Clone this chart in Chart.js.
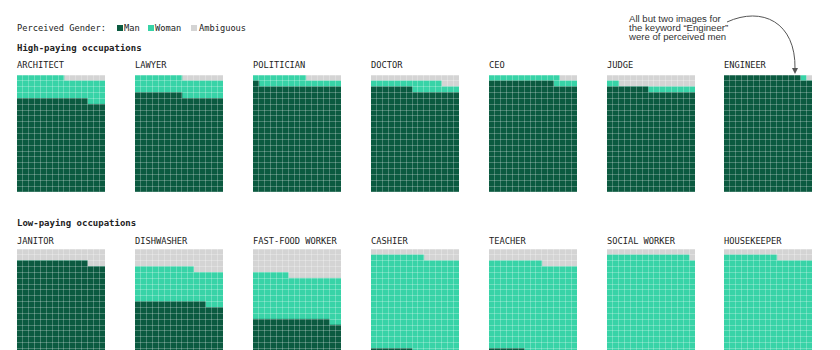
<!DOCTYPE html>
<html>
<head>
<meta charset="utf-8">
<script src="https://cdn.jsdelivr.net/npm/chart.js@4"></script>
<style>
  body { margin: 0; background: #fff; }
  #page { position: relative; width: 840px; height: 350px; overflow: hidden; font-family: 'DejaVu Sans Mono', monospace; color: #222; }
  .txt { position: absolute; white-space: nowrap; font-size: 8.7px; line-height: 10px; }
  .head { position: absolute; white-space: nowrap; font-size: 9px; line-height: 10px; font-weight: bold; }
  .sw { position: absolute; width: 6px; height: 6px; }
  .panel { position: absolute; width: 88px; height: 117px; }
  .note { position: absolute; font-family: 'Liberation Sans', Arial, sans-serif; font-size: 9.6px; line-height: 9.3px; color: #333; white-space: nowrap; }
</style>
</head>
<body>
<div id="page">
  <div class="txt" style="left:17px;top:23px">Perceived Gender:</div>
  <div class="sw" style="left:117px;top:25px;background:#0b5a40"></div>
  <div class="txt" style="left:124px;top:23px">Man</div>
  <div class="sw" style="left:148px;top:25px;background:#38d3a7"></div>
  <div class="txt" style="left:155px;top:23px">Woman</div>
  <div class="sw" style="left:191px;top:25px;background:#d4d4d4"></div>
  <div class="txt" style="left:199px;top:23px">Ambiguous</div>

  <div class="head" style="left:17px;top:43px">High-paying occupations</div>
  <div class="head" style="left:17px;top:218px">Low-paying occupations</div>

  <div class="note" style="left:629px;top:13.7px">All but two images for<br>the keyword “Engineer”<br>were of perceived men</div>
  <svg style="position:absolute;left:0;top:0" width="840" height="350">
    <path d="M727,22 C762,6 796,22 795,69" fill="none" stroke="#555" stroke-width="1"/>
    <path d="M792,68 L798,68 L795,74 Z" fill="#555"/>
  </svg>
</div>

<script>
// Waffle: 300 images per keyword, 15 columns x 20 rows
const COLS = 15;
const ROWS = 20;

const occupationsHigh = ['ARCHITECT', 'LAWYER', 'POLITICIAN', 'DOCTOR', 'CEO', 'JUDGE', 'ENGINEER'];
const manHigh = [237, 248, 271, 262, 281, 262, 298];
const womanHigh = [56, 45, 23, 20, 16, 10, 1];
const ambiguousHigh = [7, 7, 6, 18, 3, 28, 1];

const occupationsLow = ['JANITOR', 'DISHWASHER', 'FAST-FOOD WORKER', 'CASHIER', 'TEACHER', 'SOCIAL WORKER', 'HOUSEKEEPER'];
const manLow = [267, 162, 118, 37, 36, 24, 21];
const womanLow = [0, 88, 113, 242, 228, 260, 258];
const ambiguousLow = [33, 50, 69, 21, 36, 16, 21];

const cores = {
    man: '#0b5a40',
    woman: '#38d3a7',
    ambiguous: '#d4d4d4',
    grade: 'rgba(255, 255, 255, 0.25)'
};

const panelLeft = [17, 135, 253, 371, 489, 607, 724];
const rowTop = [74.5, 249.3];
const titleTop = [60.3, 236];

// cells filled row by row from the bottom, left to right
function cellsInColumn(n, c) {
    return Math.floor(n / COLS) + (c < n % COLS ? 1 : 0);
}

function columnCounts(start, count) {
    const out = [];
    for (let c = 0; c < COLS; c++) {
        out.push(cellsInColumn(start + count, c) - cellsInColumn(start, c));
    }
    return out;
}

function criarWaffle(parent, left, top, man, woman, ambiguous) {
    const box = document.createElement('div');
    box.className = 'panel';
    box.style.left = left + 'px';
    box.style.top = top + 'px';
    const canvas = document.createElement('canvas');
    canvas.width = 88;
    canvas.height = 117;
    box.appendChild(canvas);
    parent.appendChild(box);

    const labels = [];
    for (let c = 0; c < COLS; c++) labels.push(String(c + 1));

    new Chart(canvas.getContext('2d'), {
        type: 'bar',
        data: {
            labels: labels,
            datasets: [
                { label: 'Man', data: columnCounts(0, man), backgroundColor: cores.man },
                { label: 'Woman', data: columnCounts(man, woman), backgroundColor: cores.woman },
                { label: 'Ambiguous', data: columnCounts(man + woman, ambiguous), backgroundColor: cores.ambiguous }
            ]
        },
        options: {
            responsive: false,
            animation: false,
            events: [],
            layout: { padding: 0 },
            datasets: { bar: { barPercentage: 1, categoryPercentage: 1, borderWidth: 0 } },
            plugins: { legend: { display: false }, tooltip: { enabled: false } },
            scales: {
                x: {
                    stacked: true,
                    ticks: { display: false },
                    border: { display: false },
                    grid: { color: cores.grade, lineWidth: 1, drawTicks: false, z: 1 }
                },
                y: {
                    stacked: true,
                    min: 0,
                    max: ROWS,
                    ticks: { display: false, stepSize: 1 },
                    border: { display: false },
                    grid: { color: cores.grade, lineWidth: 1, drawTicks: false, z: 1 }
                }
            }
        }
    });
}

function montarLinha(page, r, names, man, woman, ambiguous) {
    names.forEach((name, i) => {
        const t = document.createElement('div');
        t.className = 'txt';
        t.style.left = panelLeft[i] + 'px';
        t.style.top = titleTop[r] + 'px';
        t.textContent = name;
        page.appendChild(t);
        criarWaffle(page, panelLeft[i], rowTop[r], man[i], woman[i], ambiguous[i]);
    });
}

const page = document.getElementById('page');
montarLinha(page, 0, occupationsHigh, manHigh, womanHigh, ambiguousHigh);
montarLinha(page, 1, occupationsLow, manLow, womanLow, ambiguousLow);
</script>
</body>
</html>
